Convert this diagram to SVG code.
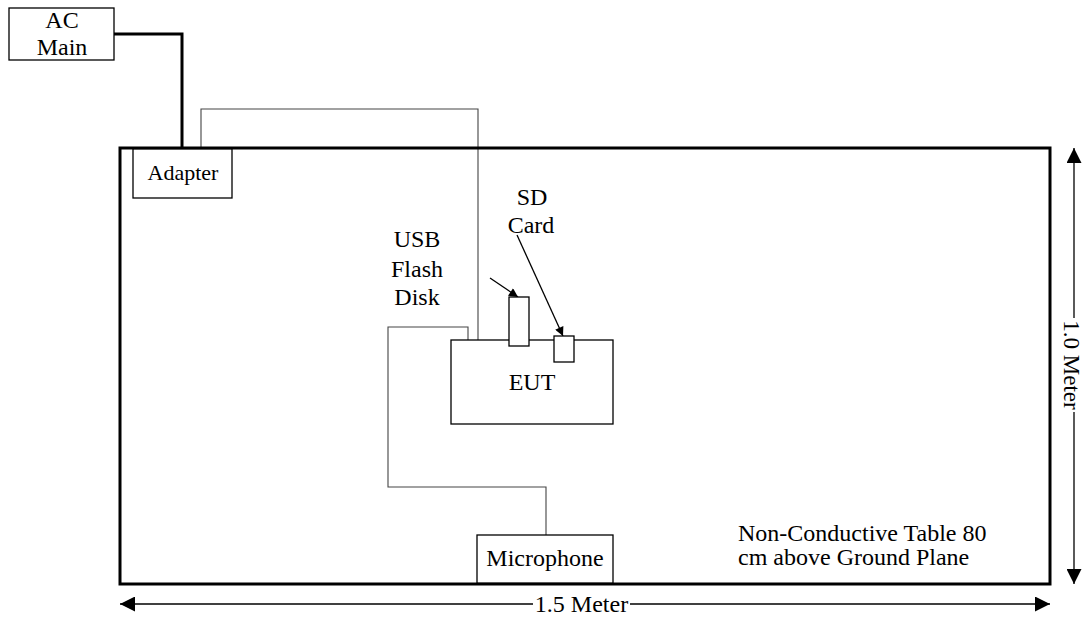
<svg xmlns="http://www.w3.org/2000/svg" width="1082" height="618" viewBox="0 0 1082 618">
<style>
text{font-family:"Liberation Serif","Times New Roman",serif;font-size:24px;fill:#000}
.box{fill:#fff;stroke:#000;stroke-width:1.3}
.thin{fill:none;stroke:#444;stroke-width:1.1}
.thick{fill:none;stroke:#000;stroke-width:3}
.dim{fill:none;stroke:#000;stroke-width:1.3}
</style>
<defs>
<marker id="ah" viewBox="0 0 10 10" refX="10" refY="5" markerWidth="22" markerHeight="15" markerUnits="userSpaceOnUse" orient="auto">
<path d="M0,0 L10,5 L0,10 Z" fill="#000"/>
</marker>
<marker id="sa" viewBox="0 0 10 10" refX="10" refY="5" markerWidth="12" markerHeight="9" markerUnits="userSpaceOnUse" orient="auto">
<path d="M0,0 L10,5 L0,10 Z" fill="#000"/>
</marker>
</defs>
<g id="connectors">
<polyline class="thick" points="114,34 182,34 182,149"/>
<polyline class="thin" points="201,149 201,109 478,109 478,340"/>
<polyline class="thin" points="468,340 468,327 388,327 388,487 546,487 546,535"/>
<line class="dim" x1="490" y1="278" x2="518" y2="297" marker-end="url(#sa)"/>
<line class="dim" x1="517" y1="235" x2="563" y2="336" marker-end="url(#sa)"/>
</g>
<g id="table">
<rect x="120" y="148" width="930" height="436" fill="none" stroke="#000" stroke-width="3"/>
<text x="738" y="541">Non-Conductive Table 80</text>
<text x="738" y="565">cm above Ground Plane</text>
</g>
<g id="ac-main">
<rect class="box" x="9" y="8" width="105" height="52"/>
<text x="62" y="28" text-anchor="middle">AC</text>
<text x="62" y="55" text-anchor="middle">Main</text>
</g>
<g id="adapter">
<rect class="box" x="133" y="149" width="99" height="49"/>
<text x="183" y="180" text-anchor="middle" style="font-size:22px">Adapter</text>
</g>
<g id="eut">
<rect class="box" x="451" y="340" width="162" height="84"/>
<text x="532" y="390" text-anchor="middle">EUT</text>
</g>
<g id="usb">
<rect class="box" x="509" y="297" width="20" height="49"/>
<text x="417" y="247" text-anchor="middle">USB</text>
<text x="417" y="277" text-anchor="middle">Flash</text>
<text x="417" y="305" text-anchor="middle">Disk</text>
</g>
<g id="sd">
<rect class="box" x="554" y="336" width="20" height="26"/>
<text x="532" y="205" text-anchor="middle">SD</text>
<text x="531" y="233" text-anchor="middle">Card</text>
</g>
<g id="microphone">
<rect class="box" x="477" y="535" width="136" height="48"/>
<text x="545" y="566" text-anchor="middle">Microphone</text>
</g>
<g id="dimensions">
<line class="dim" x1="533" y1="604" x2="120" y2="604" marker-end="url(#ah)"/>
<line class="dim" x1="630" y1="604" x2="1050" y2="604" marker-end="url(#ah)"/>
<text x="581.5" y="612" text-anchor="middle">1.5 Meter</text>
<line class="dim" x1="1074" y1="318" x2="1074" y2="148" marker-end="url(#ah)"/>
<line class="dim" x1="1074" y1="412" x2="1074" y2="584" marker-end="url(#ah)"/>
<text transform="translate(1064,365) rotate(90)" text-anchor="middle" style="font-size:23px">1.0 Meter</text>
</g>
</svg>
